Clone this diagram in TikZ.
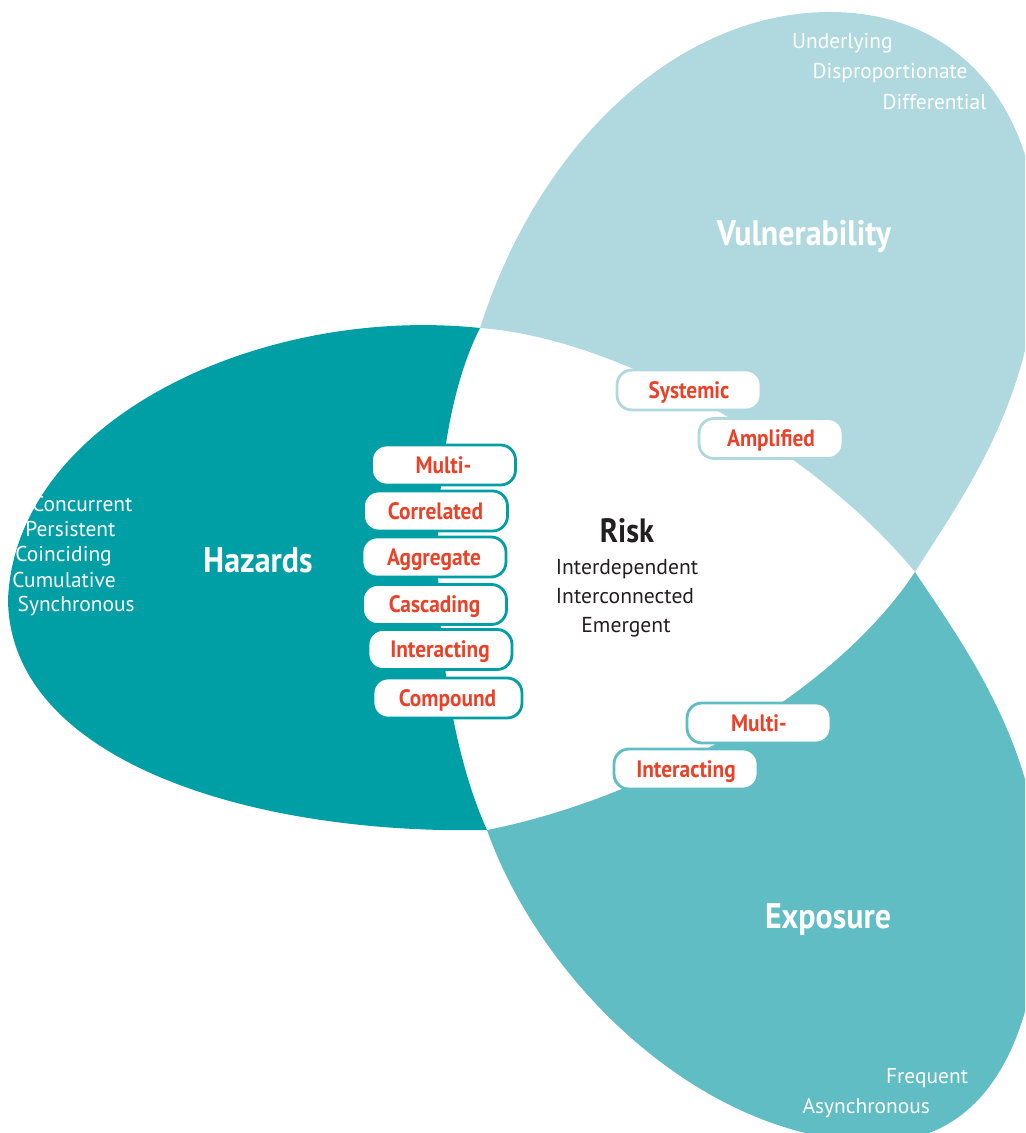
\documentclass[tikz,border=0pt]{standalone}
\usepackage{fontspec}
\setmainfont{PT Sans}
\newfontfamily\condfont[FakeStretch=0.9]{PT Sans}
\definecolor{hazcol}{HTML}{009FA6}
\definecolor{vulcol}{HTML}{B0D9DF}
\definecolor{expcol}{HTML}{5FBDC3}
\definecolor{redtxt}{HTML}{EA4229}
\definecolor{ink}{HTML}{231F20}

\begin{document}
\begin{tikzpicture}[x=0.02cm, y=-0.02cm,
  tag/.style={draw=#1, line width=1.6pt, fill=white, rounded corners=8.5pt,
    minimum width=2.88cm, minimum height=0.80cm, inner sep=0pt,
    text height=9.4pt, text depth=0pt, text=redtxt,
    font=\condfont\bfseries\fontsize{13.5}{14}\selectfont},
  title/.style={text=white, anchor=base, inner sep=0pt,
    font=\condfont\bfseries\fontsize{20.2}{20}\selectfont},
  attr/.style={text=white, anchor=base west, inner sep=0pt,
    font=\fontsize{12.2}{12}\selectfont},
  riskline/.style={text=ink, anchor=base, inner sep=0pt,
    font=\fontsize{12.3}{12}\selectfont}
]
\useasboundingbox (0,0) rectangle (1025,1133);

% the three petals, trimmed to the page
\begin{scope}
  \clip (0,0) rectangle (1025,1133);
  % hazards
  \fill[hazcol] (480,328) .. controls (260,305) and (15,420) .. (8,600)
    .. controls (10,760) and (250,835) .. (487,830)
    .. controls (428,700) and (418,450) .. cycle;
  % vulnerability
  \fill[vulcol] (480,328) .. controls (540,140) and (680,12) .. (830,12)
    .. controls (960,12) and (1040,110) .. (1038,250)
    .. controls (1036,400) and (960,500) .. (915,572)
    .. controls (815,450) and (620,338) .. cycle;
  % exposure
  \fill[expcol] (487,830) .. controls (540,980) and (700,1140) .. (875,1142)
    .. controls (995,1144) and (1045,1020) .. (1040,870)
    .. controls (1035,740) and (960,640) .. (915,572)
    .. controls (830,700) and (640,800) .. cycle;
\end{scope}

% petal titles
\node[title] (haz) at (258,572) {Hazards};
\node[title] (vul) at (804,245) {Vulnerability};
\node[title] (exp) at (828,928) {Exposure};

% centre
\node[text=ink, anchor=base, inner sep=0pt,
      font=\condfont\bfseries\fontsize{19.2}{18}\selectfont] (risk) at (627,542) {Risk};
\node[riskline] (r1) at (627,574) {Interdependent};
\node[riskline] (r2) at (625,603) {Interconnected};
\node[riskline] (r3) at (626,632) {Emergent};

% hazard qualifiers
\node[attr] (a1) at (31.7,511.7) {Concurrent};
\node[attr] (a2) at (25,536.7) {Persistent};
\node[attr] (a3) at (15,561.7) {Coinciding};
\node[attr] (a4) at (12,587) {Cumulative};
\node[attr] (a5) at (17.3,611.7) {Synchronous};

% vulnerability qualifiers
\node[attr] (b1) at (791.7,48.3) {Underlying};
\node[attr] (b2) at (812.3,78.3) {Disproportionate};
\node[attr] (b3) at (882.3,109.5) {Differential};

% exposure qualifiers
\node[attr] (c1) at (885.7,1083.3) {Frequent};
\node[attr] (c2) at (802.3,1113.3) {Asynchronous};

% risk types
\node[tag=hazcol] (h1) at (443.5,465) {Multi-};
\node[tag=hazcol] (h2) at (435.5,511) {Correlated};
\node[tag=hazcol] (h3) at (434,557) {Aggregate};
\node[tag=hazcol] (h4) at (434.5,604.5) {Cascading};
\node[tag=hazcol] (h5) at (440,649.5) {Interacting};
\node[tag=hazcol, minimum width=2.98cm] (h6) at (447.5,698) {Compound};
\node[tag=vulcol] (v1) at (689,390) {Systemic};
\node[tag=vulcol] (v2) at (771,438.5) {Amplified};
\node[tag=expcol] (e1) at (759,723) {Multi-};
\node[tag=expcol] (e2) at (686,769) {Interacting};
\end{tikzpicture}
\end{document}
